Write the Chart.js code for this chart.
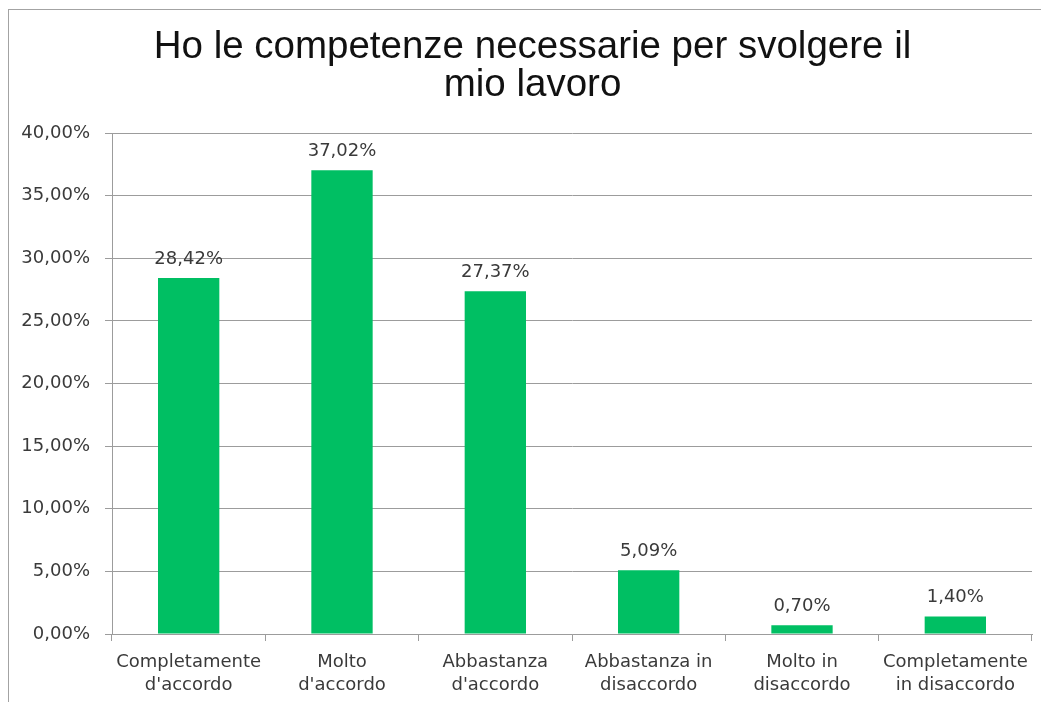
<!DOCTYPE html>
<html lang="it">
<head>
<meta charset="utf-8">
<title>Competenze</title>
<script src="https://cdn.jsdelivr.net/npm/chart.js@4.4.1/dist/chart.umd.min.js"></script>
<style>
  html, body { margin: 0; padding: 0; background: #fff; overflow: hidden; }
  #frame {
    position: absolute; left: 8px; top: 9px;
    width: 1032px; height: 692px;
    border-left: 1px solid #a3a3a3; border-top: 1px solid #a3a3a3;
  }
  #frame canvas { display: block; }
</style>
</head>
<body>
<div id="frame"><canvas id="grafico" width="1032" height="692"></canvas></div>
<script>
// risposte alla domanda (percentuali)
const categorie = [
  ['Completamente', 'd\'accordo'],
  ['Molto', 'd\'accordo'],
  ['Abbastanza', 'd\'accordo'],
  ['Abbastanza in', 'disaccordo'],
  ['Molto in', 'disaccordo'],
  ['Completamente', 'in disaccordo']
];
const percentuali = [28.42, 37.02, 27.37, 5.09, 0.70, 1.40];
const tickY = [0, 5, 10, 15, 20, 25, 30, 35, 40];

const verde = '#00bf63';
const grigio = '#9c9c9c';
const testo = '#3a3a3a';

// 12.5 -> "12,50%"
function formatoPerc(v) {
  return v.toFixed(2).replace('.', ',') + '%';
}

// etichette dei valori sopra le barre
const etichetteValori = {
  id: 'etichetteValori',
  afterDatasetsDraw(chart) {
    const ctx = chart.ctx;
    const meta = chart.getDatasetMeta(0);
    ctx.save();
    ctx.font = '18px "DejaVu Sans", sans-serif';
    ctx.fillStyle = testo;
    ctx.textAlign = 'center';
    ctx.textBaseline = 'middle';
    meta.data.forEach((bar, i) => {
      ctx.fillText(formatoPerc(percentuali[i]), bar.x, bar.y - 19);
    });
    ctx.restore();
  }
};

// il titolo è un po' spostato verso destra
const spostaTitolo = {
  id: 'spostaTitolo',
  afterLayout(chart) {
    if (chart.titleBlock) chart.titleBlock.left += 24;
  }
};

new Chart(document.getElementById('grafico'), {
  type: 'bar',
  data: {
    labels: categorie,
    datasets: [{
      data: percentuali,
      backgroundColor: verde,
      borderWidth: 0,
      categoryPercentage: 1,
      barPercentage: 0.4
    }]
  },
  options: {
    responsive: false,
    animation: false,
    layout: { padding: { left: 0, right: 9, top: 0, bottom: 0 } },
    plugins: {
      legend: { display: false },
      tooltip: { enabled: false },
      title: {
        display: true,
        text: ['Ho le competenze necessarie per svolgere il', 'mio lavoro'],
        color: '#111111',
        font: { family: '"Liberation Sans", Arial, sans-serif', size: 38.5, weight: 'normal', lineHeight: 1.0 },
        padding: { top: 18, bottom: 28 }
      }
    },
    scales: {
      x: {
        grid: {
          display: true,
          drawOnChartArea: false,
          drawTicks: true,
          tickLength: 7,
          color: grigio,
          offset: true
        },
        border: { display: true, color: grigio },
        ticks: {
          color: testo,
          font: { family: '"DejaVu Sans", sans-serif', size: 18, lineHeight: 1.28 },
          padding: 10,
          maxRotation: 0,
          autoSkip: false
        },
        afterFit(scale) { scale.height = 68; }
      },
      y: {
        min: 0,
        max: 40,
        afterBuildTicks(scale) {
          scale.ticks = tickY.map(v => ({ value: v }));
        },
        grid: {
          color: grigio,
          lineWidth: 1,
          drawTicks: true,
          tickLength: 7
        },
        border: { display: true, color: grigio },
        ticks: {
          color: testo,
          font: { family: '"DejaVu Sans", sans-serif', size: 18 },
          padding: 15,
          callback: v => formatoPerc(v)
        },
        afterFit(scale) { scale.width = 103; }
      }
    }
  },
  plugins: [etichetteValori, spostaTitolo]
});
</script>
</body>
</html>
